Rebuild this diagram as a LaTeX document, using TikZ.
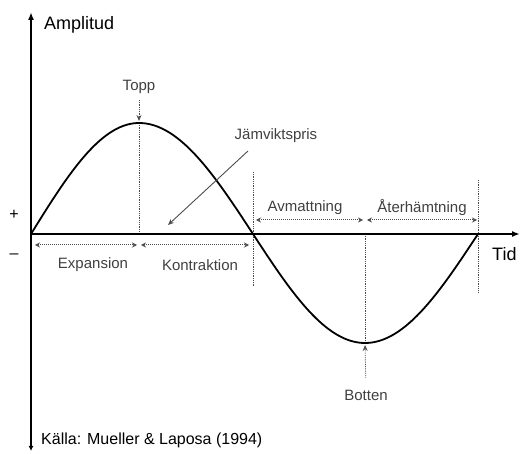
\documentclass[tikz,border=0pt]{standalone}
\usepackage{fontspec}
\setmainfont{Liberation Sans}
\usetikzlibrary{arrows.meta}
\begin{document}
\begin{tikzpicture}[x=1pt,y=-1pt,
  axisline/.style={line width=2.4pt},
  curve/.style={line width=1.8pt},
  guide/.style={densely dotted, line width=0.8pt, black!70},
  span/.style={densely dotted, line width=1pt, black!70, {Stealth[length=5pt,width=5pt]}-{Stealth[length=5pt,width=5pt]}},
  pointer/.style={line width=0.9pt, black!70, -{Stealth[length=6pt,width=5pt]}},
  lab/.style={font=\fontsize{15}{17}\selectfont, text=black!75, inner sep=0pt},
  big/.style={font=\fontsize{18}{20}\selectfont, inner sep=0pt}]
\useasboundingbox (0,0) rectangle (520,454);
% key points
\coordinate (O) at (31,234);
\coordinate (P) at (139,123);
\coordinate (Z1) at (253,234);
\coordinate (T) at (365,343);
\coordinate (Z2) at (478,234);
\coordinate (ytop) at (31,12);
\coordinate (ybot) at (31,451);
\coordinate (xend) at (520,234);
% dotted guides
\coordinate (Pb) at (139,234);
\coordinate (Z1t) at (253,172);
\coordinate (Z1b) at (253,287);
\coordinate (Tt) at (365,234);
\coordinate (Z2t) at (478,180);
\coordinate (Z2b) at (478,293);
\draw[guide] (P) -- (Pb);
\draw[guide] (Z1t) -- (Z1b);
\draw[guide] (Tt) -- (T);
\draw[guide] (Z2t) -- (Z2b);
% axes
\draw[axisline, -{Latex[length=8pt,width=6pt]}] (O) -- (xend);
\draw[axisline, {Latex[length=5pt,width=5pt]}-{Latex[length=8pt,width=6pt]}] (ybot) -- (ytop);
% sine curve
\draw[curve] plot[domain=0:90,samples=40] ({31+108*\x/90},{234-111*sin(\x)})
  -- plot[domain=90:180,samples=40] ({139+114*(\x-90)/90},{234-111*sin(\x)})
  -- plot[domain=180:270,samples=40] ({253+112*(\x-180)/90},{234-109*sin(\x)})
  -- plot[domain=270:360,samples=40] ({365+113*(\x-270)/90},{234-109*sin(\x)});
% labels
\node[big, anchor=west] (amp) at (44,25) {Amplitud};
\node[big, anchor=west] (tid) at (492,254) {Tid};
\node[font=\fontsize{16}{18}\selectfont, anchor=west, inner sep=0pt] (src) at (41,440) {Källa: Mueller \& Laposa (1994)};
\node[font=\fontsize{16}{18}\selectfont, inner sep=0pt] (plus) at (14,215) {+};
\node[font=\fontsize{16}{18}\selectfont, inner sep=0pt] (minus) at (14,256) {--};
\node[lab] (topp) at (139,87) {Topp};
\node[lab] (jam) at (276,136) {Jämviktspris};
\node[lab] (botten) at (366,395) {Botten};
\node[lab] (exp) at (93,265) {Expansion};
\node[lab] (kon) at (200,265) {Kontraktion};
\node[lab] (avm) at (305,208) {Avmattning};
\node[lab] (ater) at (422,208) {Återhämtning};
% pointers
\draw[guide, -{Stealth[length=6pt,width=5pt]}, shorten <=6pt, shorten >=2pt] (topp.south) -- (P);
\draw[guide, -{Stealth[length=6pt,width=5pt]}, shorten <=12pt, shorten >=2pt] (botten.north) -- (T);
\coordinate (jA) at (248,151);
\coordinate (jB) at (168,225);
\draw[pointer] (jA) -- (jB);
% span arrows
\coordinate (e1) at (35,245); \coordinate (e2) at (137,245);
\coordinate (k1) at (141,245); \coordinate (k2) at (249,245);
\coordinate (a1) at (256,220); \coordinate (a2) at (363,220);
\coordinate (r1) at (367,220); \coordinate (r2) at (477,220);
\draw[span] (e1) -- (e2);
\draw[span] (k1) -- (k2);
\draw[span] (a1) -- (a2);
\draw[span] (r1) -- (r2);
\end{tikzpicture}
\end{document}
